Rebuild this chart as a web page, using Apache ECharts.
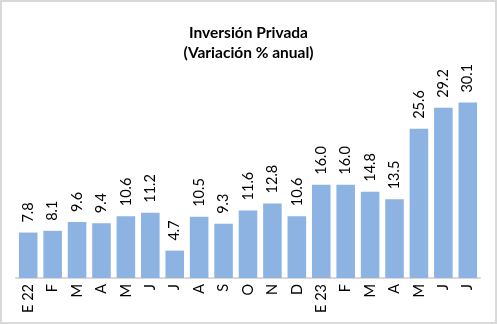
<!DOCTYPE html>
<html>
<head>
<meta charset="utf-8">
<script src="https://cdn.jsdelivr.net/npm/echarts@6/dist/echarts.min.js"></script>
<style>
  html, body { margin: 0; padding: 0; background: #fff; }
  #chart { width: 497px; height: 324px; box-sizing: border-box; border: 2px solid #d9d9d9; }
</style>
</head>
<body>
<div id="chart"></div>
<script>
// Monthly private investment, year-on-year % change
const months = ['E 22', 'F', 'M', 'A', 'M', 'J', 'J', 'A', 'S', 'O', 'N', 'D',
                'E 23', 'F', 'M', 'A', 'M', 'J', 'J'];
const growth = [7.8, 8.1, 9.6, 9.4, 10.6, 11.2, 4.7, 10.5, 9.3, 11.6, 12.8, 10.6,
                16.0, 16.0, 14.8, 13.5, 25.6, 29.2, 30.1];
const titleLines = ['Inversión Privada', '(Variación % anual)'];

const font = 'Lato, "Open Sans", sans-serif';
const chart = echarts.init(document.getElementById('chart'), null, { renderer: 'canvas' });
chart.setOption({
  animation: false,
  title: {
    text: titleLines.join('\n'),
    left: 'center',
    top: 16,
    textStyle: { fontFamily: font, fontSize: 15.5, fontWeight: 'bold', color: '#000', lineHeight: 20 }
  },
  grid: { left: 14, right: 15, top: 72, bottom: 44 },
  xAxis: {
    type: 'category',
    data: months,
    axisLine: { lineStyle: { color: '#d9d9d9', width: 2 } },
    axisTick: { show: false },
    axisLabel: { rotate: 90, fontFamily: font, fontSize: 14.5, color: '#000', margin: 6, interval: 0 }
  },
  yAxis: {
    type: 'value', min: 0, max: 35,
    show: false, splitLine: { show: false }
  },
  series: [{
    type: 'bar',
    data: growth,
    barCategoryGap: '24%',
    itemStyle: { color: '#8db3e2' },
    label: {
      show: true, position: 'top', rotate: 90, align: 'left', verticalAlign: 'middle',
      distance: 10, fontFamily: font, fontSize: 14.5, color: '#000',
      formatter: p => p.value.toFixed(1)
    }
  }]
});
</script>
</body>
</html>
